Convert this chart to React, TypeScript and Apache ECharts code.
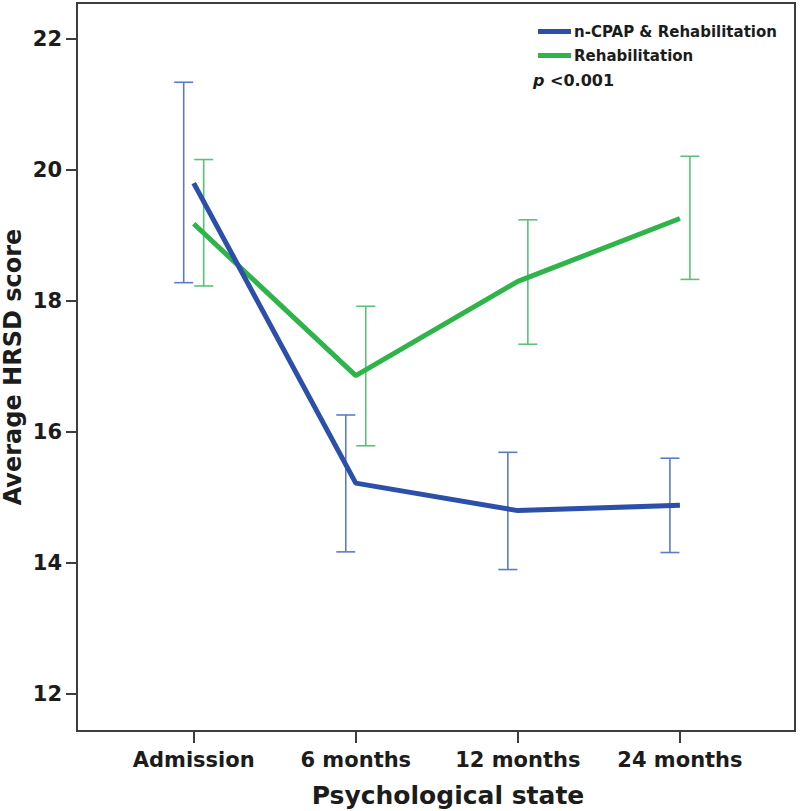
import React, { useEffect, useRef } from "react";
import * as echarts from "echarts";

const categories = ["Admission", "6 months", "12 months", "24 months"];
const yTicks = [12, 14, 16, 18, 20, 22];

const cpapName = "n-CPAP & Rehabilitation";
const cpapMean = [19.8, 15.22, 14.8, 14.88];
const cpapLow = [18.28, 14.17, 13.9, 14.16];
const cpapHigh = [21.34, 16.26, 15.69, 15.6];

const rehabName = "Rehabilitation";
const rehabMean = [19.18, 16.86, 18.3, 19.26];
const rehabLow = [18.23, 15.79, 17.34, 18.33];
const rehabHigh = [20.16, 17.92, 19.24, 20.21];

const pText = "<0.001";

const FONT = "DejaVu Sans";
const TEXT = "#1c1c1c";
const AXIS = "#3d3d3d";
const BLUE = "#2c4fa9";
const GREEN = "#2fb449";
const BLUE_ERR = "#5a7cc6";
const GREEN_ERR = "#5bc078";

function errorSeries(name: string, low: number[], high: number[], color: string, offset: number) {
  return {
    type: "custom",
    name: name + " CI",
    z: 1,
    silent: true,
    data: low.map((lo, i) => [i, lo, high[i]]),
    encode: { x: 0, y: [1, 2] },
    renderItem: (params: any, api: any) => {
      const x = api.value(0);
      const pLo = api.coord([x, api.value(1)]);
      const pHi = api.coord([x, api.value(2)]);
      const cx = pLo[0] + offset;
      const half = 9.5;
      const style = { stroke: color, lineWidth: 1.6 };
      return {
        type: "group",
        children: [
          { type: "line", shape: { x1: cx, y1: pHi[1], x2: cx, y2: pLo[1] }, style },
          { type: "line", shape: { x1: cx - half, y1: pHi[1], x2: cx + half, y2: pHi[1] }, style },
          { type: "line", shape: { x1: cx - half, y1: pLo[1], x2: cx + half, y2: pLo[1] }, style },
        ],
      };
    },
  };
}

export default function App() {
  const ref = useRef<HTMLDivElement>(null);
  useEffect(() => {
    if (!ref.current) return;
    const chart = echarts.init(ref.current, null, { renderer: "svg" });
    const idx = [0, 1, 2, 3];
    chart.setOption({
      animation: false,
      backgroundColor: "#ffffff",
      grid: {
        left: 77,
        right: 5,
        top: 3,
        bottom: 80,
        containLabel: false,
        outerBoundsMode: "none",
        show: true,
        borderColor: AXIS,
        borderWidth: 2,
        backgroundColor: "transparent",
      },
      legend: {
        data: [cpapName, rehabName],
        orient: "vertical",
        left: 533,
        top: 19,
        itemWidth: 33,
        itemHeight: 5,
        itemGap: 9,
        icon: "rect",
        selectedMode: false,
        textStyle: { fontFamily: FONT, fontWeight: "bold", fontSize: 15, color: TEXT, padding: [0, 0, 0, -2] },
      },
      graphic: [
        {
          type: "text",
          left: 533,
          top: 72,
          style: {
            text: "{i|p} " + pText,
            fontFamily: FONT,
            fontWeight: "bold",
            fontSize: 16,
            fill: TEXT,
            rich: {
              i: { fontFamily: FONT, fontStyle: "italic", fontWeight: "bold", fontSize: 16, fill: TEXT },
            },
          },
        },
      ],
      xAxis: {
        type: "value",
        min: -0.72,
        max: 3.71,
        name: "Psychological state",
        nameLocation: "middle",
        nameGap: 52,
        nameMoveOverlap: false,
        nameTextStyle: { fontFamily: FONT, fontWeight: "bold", fontSize: 25, color: TEXT, padding: [0, 0, 0, 24] },
        axisLine: { show: true, onZero: false, lineStyle: { color: AXIS, width: 2 } },
        axisTick: { show: true, length: 12, customValues: idx, lineStyle: { color: AXIS, width: 2 } },
        axisLabel: {
          customValues: idx,
          formatter: (v: number) => categories[Math.round(v)] ?? "",
          fontFamily: FONT,
          fontWeight: "bold",
          fontSize: 21,
          color: TEXT,
          margin: 18,
        },
        splitLine: { show: false },
      },
      yAxis: {
        type: "value",
        min: 11.435,
        max: 22.55,
        name: "Average HRSD score",
        nameLocation: "middle",
        nameGap: 52,
        nameMoveOverlap: false,
        nameTextStyle: { fontFamily: FONT, fontWeight: "bold", fontSize: 24, color: TEXT },
        axisLine: { show: true, onZero: false, lineStyle: { color: AXIS, width: 2 } },
        axisTick: { show: true, length: 11, customValues: yTicks, lineStyle: { color: AXIS, width: 2 } },
        axisLabel: {
          customValues: yTicks,
          fontFamily: FONT,
          fontWeight: "bold",
          fontSize: 21,
          color: TEXT,
          margin: 15,
        },
        splitLine: { show: false },
      },
      series: [
        errorSeries(cpapName, cpapLow, cpapHigh, BLUE_ERR, -10),
        errorSeries(rehabName, rehabLow, rehabHigh, GREEN_ERR, 10),
        {
          type: "line",
          name: rehabName,
          z: 3,
          data: rehabMean.map((v, i) => [i, v]),
          showSymbol: false,
          symbol: "none",
          color: GREEN,
          lineStyle: { color: GREEN, width: 5 },
        },
        {
          type: "line",
          name: cpapName,
          z: 4,
          data: cpapMean.map((v, i) => [i, v]),
          showSymbol: false,
          symbol: "none",
          color: BLUE,
          lineStyle: { color: BLUE, width: 5 },
        },
      ],
    });
    return () => chart.dispose();
  }, []);
  return (
    <div
      ref={ref}
      style={{ position: "fixed", left: 0, top: 0, width: 800, height: 811, background: "#fff" }}
    />
  );
}
